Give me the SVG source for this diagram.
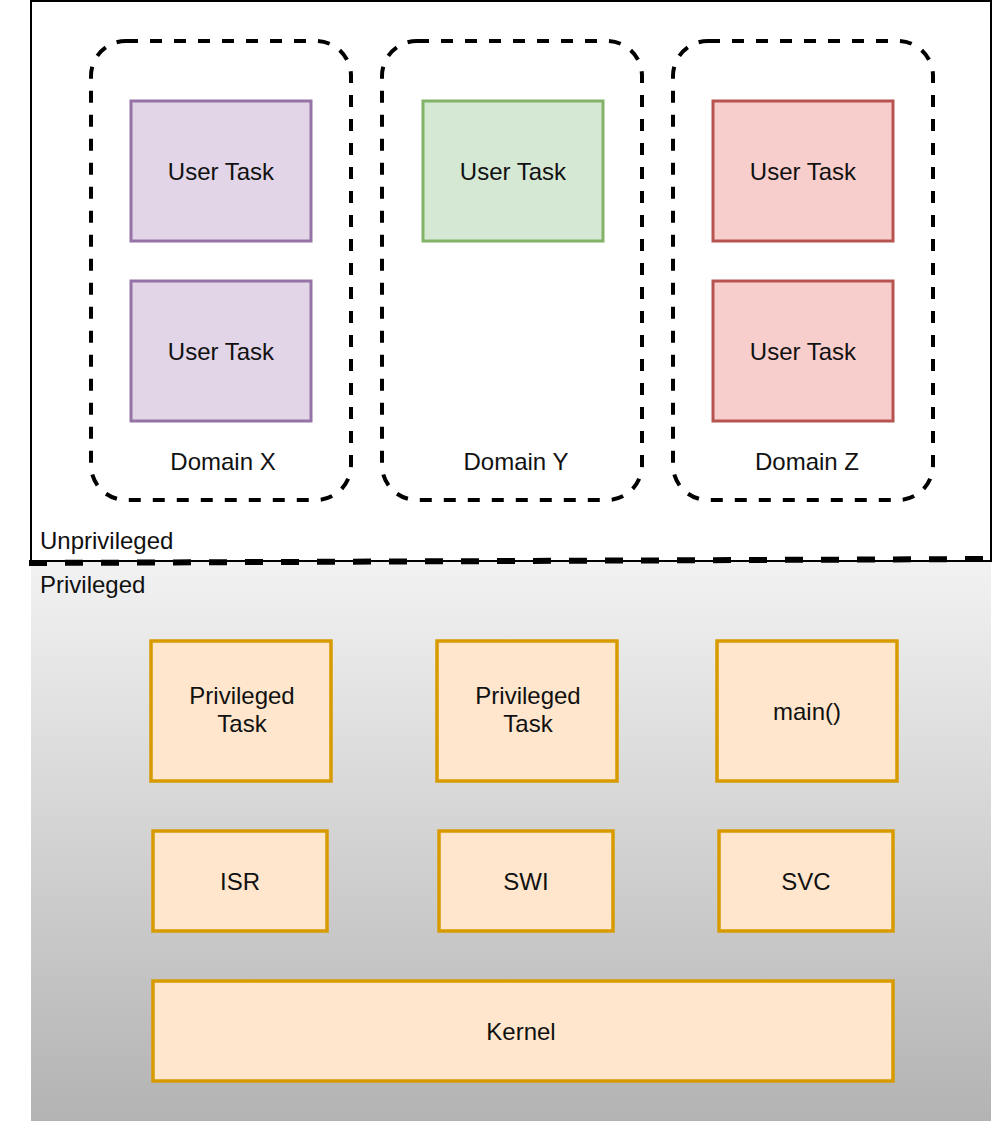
<svg xmlns="http://www.w3.org/2000/svg" width="1000" height="1122" viewBox="0 0 1000 1122">
<defs>
<linearGradient id="privGrad" x1="0" y1="0" x2="0" y2="1">
<stop offset="0" stop-color="#f2f2f2"/>
<stop offset="1" stop-color="#b3b3b3"/>
</linearGradient>
</defs>
<style>
text{font-family:"Liberation Sans",Arial,sans-serif;font-size:24px;fill:#111;}
.c{text-anchor:middle;}
.domain{fill:none;stroke:#000;stroke-width:4;stroke-dasharray:12 12;}
.purple{fill:#e1d5e7;stroke:#9673a6;stroke-width:3;}
.green{fill:#d5e8d4;stroke:#82b366;stroke-width:3;}
.red{fill:#f8cecc;stroke:#b85450;stroke-width:3;}
.orange{fill:#ffe6cc;stroke:#d79b00;stroke-width:3.5;}
</style>
<rect width="1000" height="1122" fill="#fff"/>
<g id="privileged-area">
<rect x="31" y="561" width="960" height="560" fill="url(#privGrad)"/>
<text x="40" y="593">Privileged</text>
</g>
<g id="unprivileged-area">
<rect x="31" y="1" width="960" height="560" fill="none" stroke="#000" stroke-width="2"/>
<text x="40" y="549">Unprivileged</text>
</g>
<g id="boundary">
<line x1="29" y1="563" x2="991" y2="559" stroke="#000" stroke-width="6" stroke-dasharray="18 18"/>
</g>
<g id="domain-x">
<rect class="domain" x="91" y="41" width="260" height="459" rx="35" ry="35"/>
<text class="c" x="223" y="470">Domain X</text>
</g>
<g id="domain-y">
<rect class="domain" x="382" y="41" width="260" height="459" rx="35" ry="35"/>
<text class="c" x="516" y="470">Domain Y</text>
</g>
<g id="domain-z">
<rect class="domain" x="673" y="41" width="260" height="459" rx="35" ry="35"/>
<text class="c" x="807" y="470">Domain Z</text>
</g>
<g id="user-task-x1">
<rect class="purple" x="131" y="101" width="180" height="140"/>
<text class="c" x="221" y="180">User Task</text>
</g>
<g id="user-task-x2">
<rect class="purple" x="131" y="281" width="180" height="140"/>
<text class="c" x="221" y="360">User Task</text>
</g>
<g id="user-task-y1">
<rect class="green" x="423" y="101" width="180" height="140"/>
<text class="c" x="513" y="180">User Task</text>
</g>
<g id="user-task-z1">
<rect class="red" x="713" y="101" width="180" height="140"/>
<text class="c" x="803" y="180">User Task</text>
</g>
<g id="user-task-z2">
<rect class="red" x="713" y="281" width="180" height="140"/>
<text class="c" x="803" y="360">User Task</text>
</g>
<g id="privileged-task-1">
<rect class="orange" x="151" y="641" width="180" height="140"/>
<text class="c" x="242" y="704">Privileged</text>
<text class="c" x="242" y="732">Task</text>
</g>
<g id="privileged-task-2">
<rect class="orange" x="437" y="641" width="180" height="140"/>
<text class="c" x="528" y="704">Privileged</text>
<text class="c" x="528" y="732">Task</text>
</g>
<g id="main">
<rect class="orange" x="717" y="641" width="180" height="140"/>
<text class="c" x="807" y="720">main()</text>
</g>
<g id="isr">
<rect class="orange" x="153" y="831" width="174" height="100"/>
<text class="c" x="240" y="890">ISR</text>
</g>
<g id="swi">
<rect class="orange" x="439" y="831" width="174" height="100"/>
<text class="c" x="526" y="890">SWI</text>
</g>
<g id="svc">
<rect class="orange" x="719" y="831" width="174" height="100"/>
<text class="c" x="806" y="890">SVC</text>
</g>
<g id="kernel">
<rect class="orange" x="153" y="981" width="740" height="100"/>
<text class="c" x="521" y="1040">Kernel</text>
</g>
<g id="connectors"/>
</svg>
